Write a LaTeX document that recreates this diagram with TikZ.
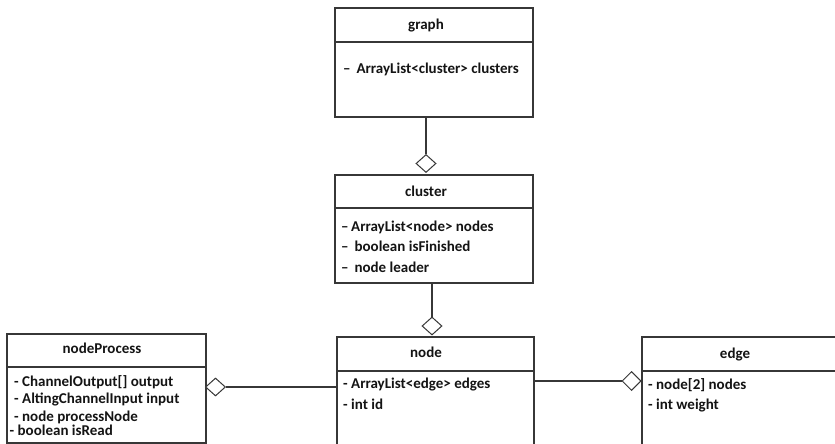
\documentclass[tikz,border=0pt]{standalone}
\usepackage{fontspec}
\setmainfont{Carlito}
\usetikzlibrary{shapes.geometric}
\definecolor{linec}{RGB}{55,55,55}
\definecolor{textc}{RGB}{20,20,20}
\tikzset{
  classbox/.style={draw=linec, line width=1.2pt, fill=white, anchor=north west, inner sep=0pt, outer sep=0pt},
  openbox/.style={anchor=north west, inner sep=0pt, outer sep=0pt},
  ttl/.style={anchor=base, inner sep=0pt, text=textc, font=\fontsize{15}{17}\selectfont\bfseries},
  attr/.style={anchor=base west, inner sep=0pt, text=textc, font=\fontsize{15}{17}\selectfont\bfseries},
  agg/.style={shape=diamond, draw=linec, line width=1pt, fill=white, inner sep=0pt, minimum width=20pt, minimum height=18pt},
  conn/.style={draw=linec, line width=1.1pt},
  divider/.style={draw=linec, line width=1.2pt}
}
\begin{document}
\begin{tikzpicture}[x=1pt,y=-1pt]
\fill[white] (0,0) rectangle (835,444);
\useasboundingbox (0,0) rectangle (835,444);
\clip (0,0) rectangle (835,444);

% graph
\node[classbox, minimum width=198pt, minimum height=109pt] (graph) at (335,8) {};
\draw[divider] (graph.west |- 0,42) -- (graph.east |- 0,42);
\node[ttl] (graphT) at (426,30) {graph};
\node[attr] (graphA1) at (343,74) {–\ \,ArrayList<cluster> clusters};

% cluster
\node[classbox, minimum width=198pt, minimum height=108pt] (cluster) at (335,175) {};
\draw[divider] (cluster.west |- 0,208) -- (cluster.east |- 0,208);
\node[ttl] (clusterT) at (426,196) {cluster};
\node[attr] (clusterA1) at (341,231) {–\,ArrayList<node> nodes};
\node[attr] (clusterA2) at (341,251) {–\ \,boolean isFinished};
\node[attr] (clusterA3) at (341,272) {–\ \,node leader};

% node (continues below the picture)
\node[openbox, minimum width=197pt, minimum height=120pt] (node) at (337,337) {};
\draw[divider] (node.south west) -- (node.north west) -- (node.north east) -- (node.south east);
\draw[divider] (node.west |- 0,371) -- (node.east |- 0,371);
\node[ttl] (nodeT) at (426,357) {node};
\node[attr] (nodeA1) at (343,388) {- ArrayList<edge> edges};
\node[attr] (nodeA2) at (343,409) {- int id};

% edge (continues past the right edge)
\node[openbox, minimum width=200pt, minimum height=120pt] (edge) at (642,337) {};
\draw[divider] (edge.south west) -- (edge.north west) -- (edge.north east);
\draw[divider] (edge.west |- 0,371) -- (edge.east |- 0,371);
\node[ttl] (edgeT) at (735,358) {edge};
\node[attr] (edgeA1) at (648,389) {- node[2] nodes};
\node[attr] (edgeA2) at (648,409) {- int weight};

% nodeProcess
\node[classbox, minimum width=199pt, minimum height=109pt] (np) at (7,334) {};
\draw[divider] (np.west |- 0,367) -- (np.east |- 0,367);
\node[ttl] (npT) at (102,353) {nodeProcess};
\node[attr] (npA1) at (14,386) {- ChannelOutput[] output};
\node[attr] (npA2) at (14,403) {- AltingChannelInput input};
\node[attr] (npA3) at (14,421) {- node processNode};
\node[attr] (npA4) at (9.5,435) {- boolean isRead};

% aggregation diamonds
\node[agg] (d1) at (426,163.5) {};
\node[agg] (d2) at (432,326) {};
\node[agg, minimum width=19pt, minimum height=19pt] (d3) at (631.5,381) {};
\node[agg] (d4) at (215.5,387) {};

% connectors
\draw[conn] (graph.south -| d1) -- (d1.north);
\draw[conn] (cluster.south -| d2) -- (d2.north);
\draw[conn] (node.east |- d3) -- (d3.west);
\draw[conn] (d4.east) -- (node.west |- d4);
\end{tikzpicture}
\end{document}
